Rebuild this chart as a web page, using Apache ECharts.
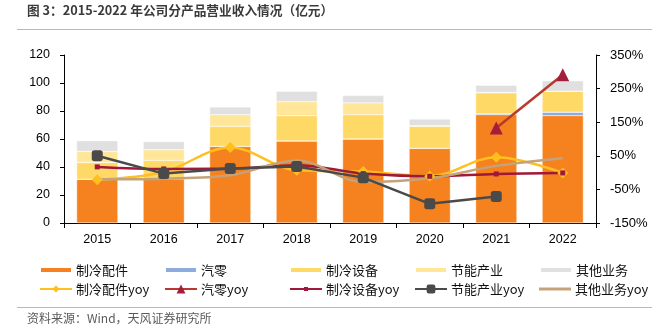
<!DOCTYPE html>
<html>
<head>
<meta charset="utf-8">
<script src="https://cdn.jsdelivr.net/npm/echarts@6/dist/echarts.min.js"></script>
<style>
  html, body { margin: 0; padding: 0; background: #fff; }
  #chart { width: 664px; height: 327px; }
</style>
</head>
<body>
<div id="chart"></div>
<script>
// 年份
const years = ['2015', '2016', '2017', '2018', '2019', '2020', '2021', '2022'];

// 各产品营业收入（亿元）
const revParts   = [31.3, 31.5, 54.7, 58.6, 60.0, 53.3, 77.4, 76.7]; // 制冷配件
const revAuto    = [0, 0, 0, 0, 0, 0, 0.7, 2.4];                     // 汽零
const revEquip   = [11.9, 13.2, 14.3, 18.1, 17.4, 15.7, 14.9, 15.0]; // 制冷设备
const revEnergy  = [7.9, 7.6, 8.4, 10.0, 8.4, 0.5, 0.2, 0];          // 节能产业
const revOther   = [7.7, 5.8, 5.5, 7.4, 5.2, 4.8, 5.2, 7.5];         // 其他业务

// 同比增速（%）
const yoyParts  = [-21, 2, 75, 7, 3, -11, 46, -1];
const yoyAuto   = [null, null, null, null, null, null, 133, 291];
const yoyEquip  = [17, 11, 12, 22, -3, -11, -4, -1];
const yoyEnergy = [50, -3, 12, 18, -15, -93, -71, null];
const yoyOther  = [-20, -18, -8, 36, -28, -17, 20, 43];

// 右轴刻度
const pctTicks = [-150, -50, 50, 150, 250, 350];

const FONT = '"Noto Sans CJK SC", "Noto Sans", sans-serif';
const AXIS_FONT = '"Liberation Sans", Arial, sans-serif';

const C = {
  parts: '#F5821F', auto: '#8FAADC', equip: '#FFD966', energy: '#FFE699', other: '#E0E0E0',
  yParts: '#FFBF1F', yAutoLine: '#B8392E', yAutoMark: '#A31D3C', yEquip: '#A0183A',
  yEnergy: '#4A4A4A', yOther: '#C4A27A'
};

function bar(name, data, color) {
  return {
    name, type: 'bar', stack: 'rev', data, barWidth: '62%',
    itemStyle: { color, borderColor: '#fff', borderWidth: 0.4 },
    emphasis: { disabled: true }
  };
}

function line(name, data, color, extra) {
  return Object.assign({
    name, type: 'line', yAxisIndex: 1, data,
    lineStyle: { color, width: 2.5 },
    itemStyle: { color },
    symbol: 'none',
    connectNulls: false,
    z: 5
  }, extra || {});
}

// 图例：两行五列，行为图例中心线
const legendCols = [39, 164, 289, 414, 539];
const legendRows = [270, 289];
// [名称, 列, 行, 图标高度, 自定义图标]
const legendItems = [
  ['制冷配件', 0, 0, 6], ['汽零', 1, 0, 6], ['制冷设备', 2, 0, 6], ['节能产业', 3, 0, 6], ['其他业务', 4, 0, 6],
  ['制冷配件yoy', 0, 1, 9], ['汽零yoy', 1, 1, 11], ['制冷设备yoy', 2, 1, 5],
  ['节能产业yoy', 3, 1, 11], ['其他业务yoy', 4, 1, 3, 'rect']
];
const legends = legendItems.map(([name, col, row, h, icon]) => {
  const boxH = Math.max(h, 16);
  return {
    data: [icon ? { name, icon } : name],
    left: legendCols[col],
    top: legendRows[row] - boxH / 2,
    padding: 0,
    itemWidth: 32,
    itemHeight: h,
    selectedMode: false,
    textStyle: { fontFamily: FONT, fontSize: 13, color: '#111', lineHeight: 16, padding: [0, 0, 0, -1] }
  };
});

const option = {
  animation: false,
  backgroundColor: '#fff',
  legend: legends,
  grid: { left: 64, right: 68, top: 55, bottom: 104, containLabel: false },
  xAxis: {
    type: 'category',
    data: years,
    boundaryGap: true,
    axisLine: { lineStyle: { color: '#000', width: 1 } },
    axisTick: { show: true, length: 5, lineStyle: { color: '#000' } },
    axisLabel: { fontFamily: AXIS_FONT, fontSize: 12.5, color: '#000', margin: 10 }
  },
  yAxis: [
    {
      type: 'value', min: 0, max: 120, interval: 20,
      axisLine: { show: true, lineStyle: { color: '#000' } },
      axisTick: { show: true, length: 4, lineStyle: { color: '#000' } },
      axisLabel: { fontFamily: AXIS_FONT, fontSize: 12.5, color: '#000', margin: 14 },
      splitLine: { show: false }
    },
    {
      type: 'value', min: -150, max: 350, position: 'right',
      axisLine: { show: true, lineStyle: { color: '#000' } },
      axisTick: { show: true, length: 4, lineStyle: { color: '#000' }, customValues: pctTicks },
      axisLabel: {
        fontFamily: AXIS_FONT, fontSize: 13, color: '#000', margin: 14,
        customValues: pctTicks, formatter: v => v + '%'
      },
      splitLine: { show: false }
    }
  ],
  series: [
    bar('制冷配件', revParts, C.parts),
    bar('汽零', revAuto, C.auto),
    bar('制冷设备', revEquip, C.equip),
    bar('节能产业', revEnergy, C.energy),
    bar('其他业务', revOther, C.other),
    line('制冷配件yoy', yoyParts, C.yParts, { smooth: 0.35, symbol: 'diamond', symbolSize: 11 }),
    line('汽零yoy', yoyAuto, C.yAutoLine, {
      symbol: 'triangle', symbolSize: 13, itemStyle: { color: C.yAutoMark }
    }),
    line('制冷设备yoy', yoyEquip, C.yEquip, { smooth: 0.35, symbol: 'rect', symbolSize: 5 }),
    line('节能产业yoy', yoyEnergy, C.yEnergy, {
      symbol: 'roundRect', symbolSize: 11, z: 6
    }),
    line('其他业务yoy', yoyOther, C.yOther, { smooth: 0.35 })
  ],
  graphic: [
    {
      type: 'text', x: 27, y: 10,
      style: {
        text: '图 3：2015-2022 年公司分产品营业收入情况（亿元）',
        fontFamily: FONT, fontSize: 12.7, fontWeight: 'bold', fill: '#3a3a3a',
        verticalAlign: 'middle'
      }
    },
    {
      type: 'line', shape: { x1: 17, y1: 29.5, x2: 652, y2: 29.5 },
      style: { stroke: '#F5A96E', lineWidth: 1.2 }
    },
    {
      type: 'line', shape: { x1: 17, y1: 307.5, x2: 652, y2: 307.5 },
      style: { stroke: '#F5A96E', lineWidth: 1.2 }
    },
    {
      type: 'text', x: 27, y: 318.5,
      style: {
        text: '资料来源：Wind，天风证券研究所',
        fontFamily: FONT, fontSize: 12, fill: '#5a5a5a', verticalAlign: 'middle'
      }
    }
  ]
};

const chart = echarts.init(document.getElementById('chart'), null, { renderer: 'canvas' });
chart.setOption(option);
</script>
</body>
</html>
